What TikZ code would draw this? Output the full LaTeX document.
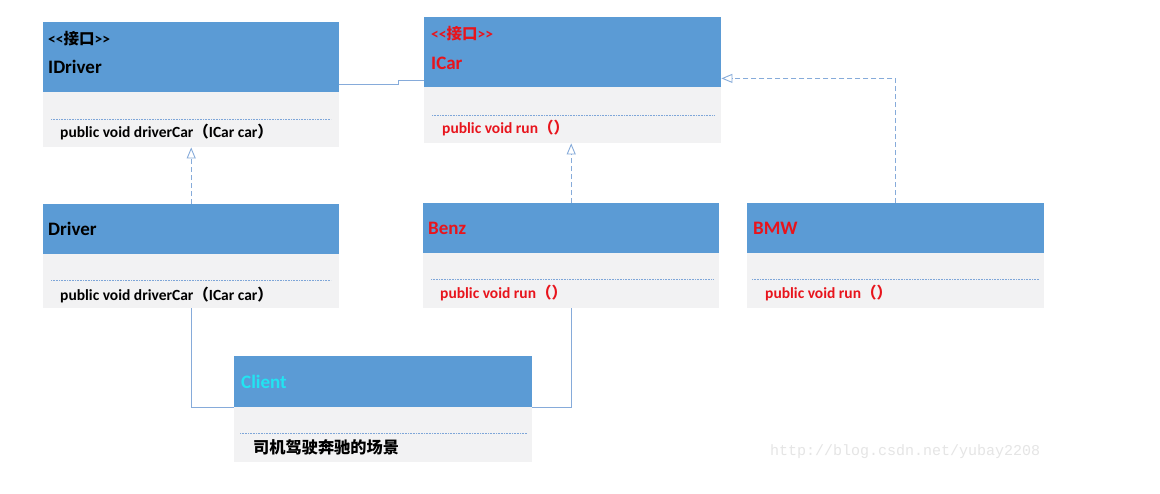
\documentclass[tikz,border=0pt]{standalone}
\usepackage{fontspec}
\setmainfont{Carlito}[Ligatures=NoCommon]
\newfontfamily\cjk{Noto Sans CJK SC}
\newfontfamily\wm{Liberation Mono}
\usetikzlibrary{arrows.meta}
\definecolor{hdr}{HTML}{5B9BD5}
\definecolor{bdy}{HTML}{F2F2F3}
\definecolor{ln}{HTML}{86ABDA}
\definecolor{dot}{HTML}{7EA6D8}
\definecolor{rd}{HTML}{E8141C}
\definecolor{cy}{HTML}{22E4F2}
\tikzset{
  hdrbox/.style={fill=hdr, draw=none, inner sep=0pt, anchor=north west},
  bdybox/.style={fill=bdy, draw=none, inner sep=0pt, anchor=north west},
  title/.style={anchor=west, inner sep=0pt, font=\bfseries\fontsize{19}{22}\selectfont},
  stereo/.style={anchor=west, inner sep=0pt, font=\bfseries\fontsize{15.5}{18}\selectfont},
  meth/.style={anchor=west, inner sep=0pt, font=\bfseries\fontsize{15.5}{18}\selectfont},
  sep/.style={draw=dot, line width=0.7pt, dash pattern=on 1pt off 0.6pt},
  conn/.style={draw=ln, line width=0.9pt},
  realize/.style={draw=ln, line width=0.9pt, dash pattern=on 5pt off 3pt,
     -{Triangle[open, length=11pt, width=9pt, fill=white]}},
}
\newcommand{\stereotext}{{<}{<}{\cjk 接口}{>}{>}}
\begin{document}
\begin{tikzpicture}[x=1pt,y=-1pt]
\useasboundingbox (0,0) rectangle (1160,493);
\fill[white] (0,0) rectangle (1160,493);

% IDriver
\node[hdrbox, minimum width=296pt, minimum height=70pt] (idH) at (43,22) {};
\node[bdybox, minimum width=296pt, minimum height=55pt] (idB) at (43,92) {};
\draw[sep] (51,119) -- (331,119);
\node[stereo] (idS) at (48,39) {\stereotext};
\node[title] (idT) at (48,67) {IDriver};
\node[meth] (idM) at (60,132) {public void driverCar{\cjk （}ICar car{\cjk ）}};

% ICar
\node[hdrbox, minimum width=297pt, minimum height=70pt] (icH) at (424,17) {};
\node[bdybox, minimum width=297pt, minimum height=56pt] (icB) at (424,87) {};
\draw[sep] (432,115) -- (715,115);
\node[stereo, text=rd] (icS) at (431,34) {\stereotext};
\node[title, text=rd] (icT) at (431,63) {ICar};
\node[meth, text=rd] (icM) at (442,128) {public void run{\cjk （）}};

% Driver
\node[hdrbox, minimum width=296pt, minimum height=50pt] (drH) at (43,204) {};
\node[bdybox, minimum width=296pt, minimum height=54pt] (drB) at (43,254) {};
\draw[sep] (51,280) -- (331,280);
\node[title] (drT) at (48,229) {Driver};
\node[meth] (drM) at (60,295) {public void driverCar{\cjk （}ICar car{\cjk ）}};

% Benz
\node[hdrbox, minimum width=296pt, minimum height=50pt] (bzH) at (423,203) {};
\node[bdybox, minimum width=296pt, minimum height=55pt] (bzB) at (423,253) {};
\draw[sep] (431,279) -- (713,279);
\node[title, text=rd] (bzT) at (428,228) {Benz};
\node[meth, text=rd] (bzM) at (440,293) {public void run{\cjk （）}};

% BMW
\node[hdrbox, minimum width=297pt, minimum height=50pt] (bmH) at (747,203) {};
\node[bdybox, minimum width=297pt, minimum height=55pt] (bmB) at (747,253) {};
\draw[sep] (752,279) -- (1039,279);
\node[title, text=rd] (bmT) at (753,228) {BMW};
\node[meth, text=rd] (bmM) at (765,293) {public void run{\cjk （）}};

% Client
\node[hdrbox, minimum width=298pt, minimum height=51pt] (clH) at (234,356) {};
\node[bdybox, minimum width=298pt, minimum height=55pt] (clB) at (234,407) {};
\draw[sep] (240,433) -- (527,433);
\node[title, text=cy] (clT) at (241,382) {Client};
\node[anchor=west, inner sep=0pt, font=\cjk\bfseries\fontsize{16.2}{19}\selectfont] (clM) at (253,447) {司机驾驶奔驰的场景};

% watermark
\node[anchor=west, inner sep=0pt, text=black!10, font=\wm\fontsize{15}{15}\selectfont] (wm) at (770,452) {http://blog.csdn.net/yubay2208};

% connectors
\draw[conn] ([yshift=8pt]idH.south east) -- ++(59,0) |- ([yshift=7pt]icH.south west);
\draw[realize] (drH.north) -- (idB.south);
\draw[realize] (bzH.north) -- (bzH.north |- icB.south);
\draw[realize] (bmH.north) |- ([yshift=9pt]icH.south east);
\draw[conn] (drB.south) |- (clH.south west);
\draw[conn] (bzB.south) |- (clH.south east);
\end{tikzpicture}
\end{document}
